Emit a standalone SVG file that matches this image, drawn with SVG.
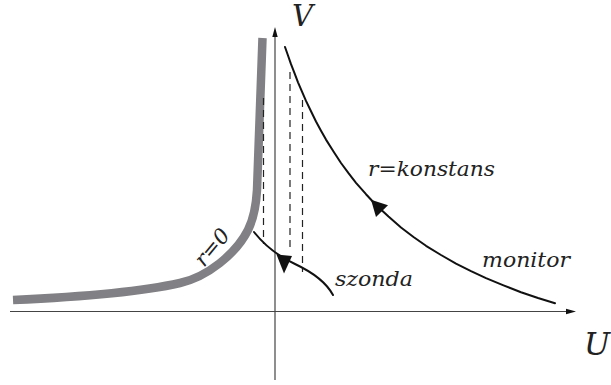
<svg xmlns="http://www.w3.org/2000/svg" width="611" height="385" viewBox="0 0 611 385">
  <style>
    .axis { stroke: #444; stroke-width: 1.2; fill: none; }
    .curve { stroke: #111; stroke-width: 2; fill: none; stroke-linejoin: round; stroke-linecap: round; }
    .dash { stroke: #222; stroke-width: 1.2; stroke-dasharray: 7 5; fill: none; }
    .head { fill: #111; stroke: none; }
    .lbl { font-family: 'DejaVu Serif', 'Liberation Serif', serif; font-style: italic; fill: #222; }
  </style>
  <rect width="611" height="385" fill="#fff"/>

  <g id="axes">
    <line class="axis" x1="10" y1="311.5" x2="570" y2="311.5"/>
    <polygon class="head" points="576,311.5 566,308.8 566,314.2"/>
    <line class="axis" x1="275" y1="380" x2="275" y2="33"/>
    <polygon class="head" points="275,27 272.3,37 277.7,37"/>
    <text class="lbl" x="292" y="26" font-size="29">V</text>
    <text class="lbl" x="584" y="355" font-size="31">U</text>
  </g>

  <g id="r0-curve">
    <path d="M13,300 C80,297 140,292 180,283 C207,277 236,254 248,230 C253,220 256,208 257,190 C258.5,160 260,110 262.5,38" fill="none" stroke="#818185" stroke-width="8.5" stroke-linecap="butt"/>
    <text class="lbl" font-size="21" transform="translate(204,268) rotate(-50)" textLength="42" lengthAdjust="spacingAndGlyphs">r=0</text>
  </g>

  <g id="connectors">
    <line class="dash" x1="263.5" y1="98" x2="263.5" y2="244"/>
    <line class="dash" x1="290" y1="72" x2="290" y2="251"/>
    <line class="dash" x1="302.5" y1="100" x2="302.5" y2="272"/>
  </g>

  <g id="monitor">
    <polyline class="curve" points="285,47 288,55.5 291,64.2 294.5,73.2 298,82.3 302,91.7 306,100.9 311,111.3 316,121.5 321,130.7 326,139.6 333.5,151.5 341,163 348.5,173.2 356,182.8 366,194.2 376,205 388.5,216.6 401,227.5 413.5,237 426,245.8 441,255 456,263.6 471,271.2 486,278.2 503.5,285.4 521,292.2 538,298 555,303.3"/>
    <polygon class="head" points="371,199.8 388,205.3 376,217"/>
    <text class="lbl" x="368" y="176" font-size="21" textLength="127" lengthAdjust="spacingAndGlyphs">r=konstans</text>
    <text class="lbl" x="482" y="267" font-size="21" textLength="88" lengthAdjust="spacingAndGlyphs">monitor</text>
  </g>

  <g id="szonda">
    <path class="curve" d="M254,232 C265,246 278,256 295,264 C312,272 326,282 333,295" stroke-width="1.8"/>
    <polygon class="head" points="276.5,254.5 292,256 284,273.5"/>
    <text class="lbl" x="335" y="286" font-size="21" textLength="78" lengthAdjust="spacingAndGlyphs">szonda</text>
  </g>
</svg>
